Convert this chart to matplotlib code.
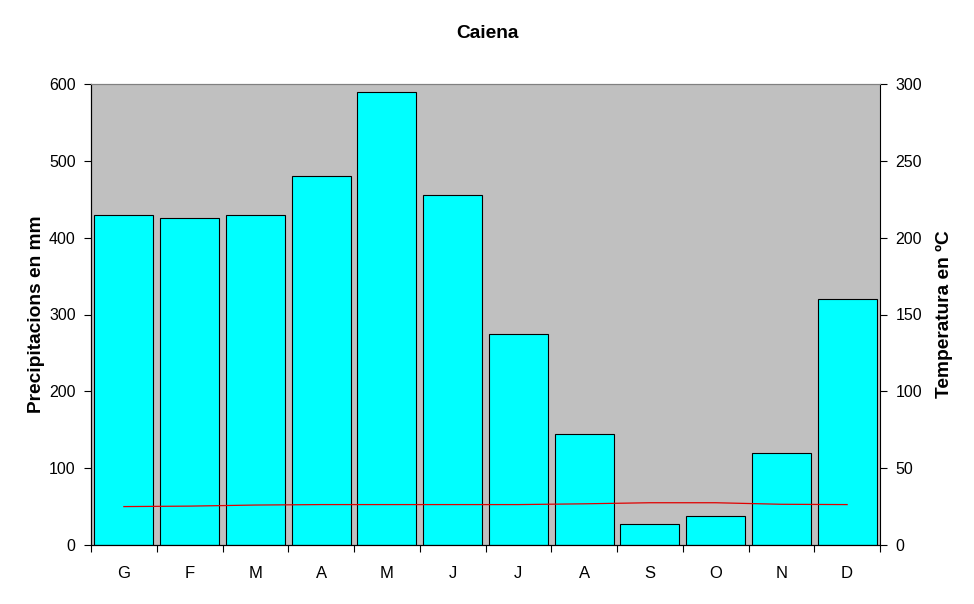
import numpy as np
import matplotlib.pyplot as plt

plt.rcParams['font.family'] = ['Liberation Sans', 'DejaVu Sans']

mesos = ['G', 'F', 'M', 'A', 'M', 'J', 'J', 'A', 'S', 'O', 'N', 'D']
precipitacions = [430, 425, 430, 480, 590, 455, 275, 145, 27, 38, 120, 320]
temperatura = [25.0, 25.3, 26.0, 26.3, 26.3, 26.3, 26.3, 26.8, 27.5, 27.5, 26.5, 26.3]

fig = plt.figure(figsize=(9.74, 6.04), dpi=100)
ax = fig.add_axes([91 / 974, 1 - 545 / 604, 789 / 974, 461 / 604])
ax.set_facecolor('#c0c0c0')

x = np.arange(len(mesos))
ax.bar(x, precipitacions, width=0.9, color='#00ffff', edgecolor='black', linewidth=0.8, zorder=2)
ax.set_xlim(-0.5, len(mesos) - 0.5)
ax.set_ylim(0, 600)
ax.set_yticks(range(0, 601, 100))
ax.set_xticks(x)
ax.set_xticklabels(mesos)
ax.set_xticks(np.arange(-0.5, len(mesos)), minor=True)
ax.tick_params(axis='x', which='major', length=0, pad=15, labelsize=12)
ax.tick_params(axis='x', which='minor', length=5, direction='out', width=0.8)
ax.tick_params(axis='y', length=5, direction='out', width=0.8, labelsize=11.5, pad=6)
ax.set_ylabel('Precipitacions en mm', fontsize=13.8, fontweight='bold', labelpad=3)
ax.spines['top'].set_color('#808080')
ax.spines['right'].set_visible(False)

ax2 = ax.twinx()
ax2.plot(x, temperatura, color='#e00000', linewidth=0.9, zorder=3)
ax2.set_ylim(0, 300)
ax2.set_yticks(range(0, 301, 50))
ax2.tick_params(axis='y', length=5, direction='out', width=0.8, labelsize=11.5, pad=6)
ax2.set_ylabel('Temperatura en ºC', fontsize=13.8, fontweight='bold', labelpad=10)
ax2.spines['top'].set_color('#808080')

fig.text(487 / 974, 1 - 33 / 604, 'Caiena', ha='center', va='center', fontsize=13.8, fontweight='bold')

fig.savefig('out.png', dpi=100)
